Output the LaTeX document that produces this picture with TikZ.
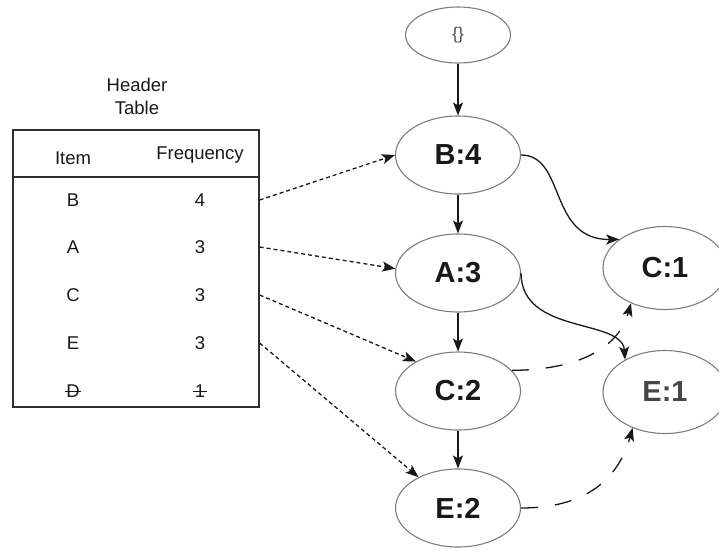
\documentclass[tikz,border=0pt]{standalone}
\usepackage{fontspec}
\setmainfont{Liberation Sans}
\usetikzlibrary{arrows.meta,shapes.geometric}
\definecolor{rimgray}{RGB}{125,125,125}
\definecolor{ink}{RGB}{25,25,25}
\definecolor{softink}{RGB}{70,70,70}
\begin{document}
\begin{tikzpicture}[x=1pt,y=-1pt,
  fpnode/.style={ellipse, draw=rimgray, line width=1.1pt, minimum width=125pt,
    minimum height=78pt, inner sep=0pt, text=ink,
    font=\fontsize{29}{30}\selectfont\bfseries},
  cell/.style={inner sep=0pt, text=ink, font=\fontsize{18.5}{20}\selectfont},
  tip/.style={-{Stealth[length=13pt,width=10pt,inset=3pt]}},
  tree/.style={draw=ink, line width=1.3pt, tip},
  link/.style={draw=ink, line width=1.3pt, dash pattern=on 4pt off 3pt, tip},
  nodelink/.style={draw=ink, line width=1.3pt, dash pattern=on 17pt off 17pt, tip}]
\useasboundingbox (0,0) rectangle (719,550);

% FP-tree
\node[ellipse, draw=rimgray, line width=1.1pt, minimum width=105pt, minimum height=56pt,
  inner sep=0pt, text=softink, font=\fontsize{17}{18}\selectfont] (root) at (458,35) {\{\}};
\node[fpnode] (B4) at (458,155) {B:4};
\node[fpnode] (A3) at (458,273) {A:3};
\node[fpnode] (C2) at (458,391) {C:2};
\node[fpnode] (E2) at (458,508) {E:2};
\node[fpnode, minimum width=124pt, minimum height=83pt] (C1) at (665,268) {C:1};
\node[fpnode, minimum width=124pt, minimum height=83pt, text=softink] (E1) at (665,392) {E:1};

\draw[tree] (root) -- (B4);
\draw[tree] (B4) -- (A3);
\draw[tree] (A3) -- (C2);
\draw[tree] (C2) -- (E2);
\draw[tree] (B4.east) .. controls (566,155) and (548,240) .. (C1.148);
\draw[tree] (A3.east) .. controls (521,335) and (622,318) .. (E1.141);

% node links between equal items
\draw[nodelink] (C2.21) .. controls (575,370) and (618,350) .. (C1.226);
\draw[nodelink] (E2.east) .. controls (585,508) and (618,480) .. (E1.228);

% header table
\node[text=ink, align=center, font=\fontsize{18.5}{23}\selectfont] (title) at (137,96) {Header\\Table};
\node[draw=ink!90, line width=1.3pt, minimum width=246pt, minimum height=277pt, inner sep=0pt] (tbl) at (136,268.5) {};
\coordinate (divy) at (0,177);
\draw[draw=ink!90, line width=1.3pt] (tbl.west |- divy) -- (tbl.east |- divy);

\node[cell] (hItem) at (73,158) {Item};
\node[cell] (hFreq) at (200,155) {Frequency};
\node[cell] (iB) at (73,200) {B};  \node[cell] (fB) at (200,200) {4};
\node[cell] (iA) at (73,247) {A};  \node[cell] (fA) at (200,247) {3};
\node[cell] (iC) at (73,295) {C};  \node[cell] (fC) at (200,295) {3};
\node[cell] (iE) at (73,343) {E};  \node[cell] (fE) at (200,343) {3};
\node[cell] (iD) at (73,391) {D};  \node[cell] (fD) at (200,391) {1};
\draw[ink, line width=1pt] ([xshift=-1.5pt]iD.west) -- ([xshift=1pt]iD.east);
\draw[ink, line width=1pt] ([xshift=-1.5pt]fD.west) -- ([xshift=1.5pt]fD.east);

% header links into the tree
\draw[link] (tbl.east |- fB) -- (B4.west);
\draw[link] (tbl.east |- fA) -- (A3.176);
\draw[link] (tbl.east |- fC) -- (C2.145);
\draw[link] (tbl.east |- fE) -- (E2.142);
\end{tikzpicture}
\end{document}
